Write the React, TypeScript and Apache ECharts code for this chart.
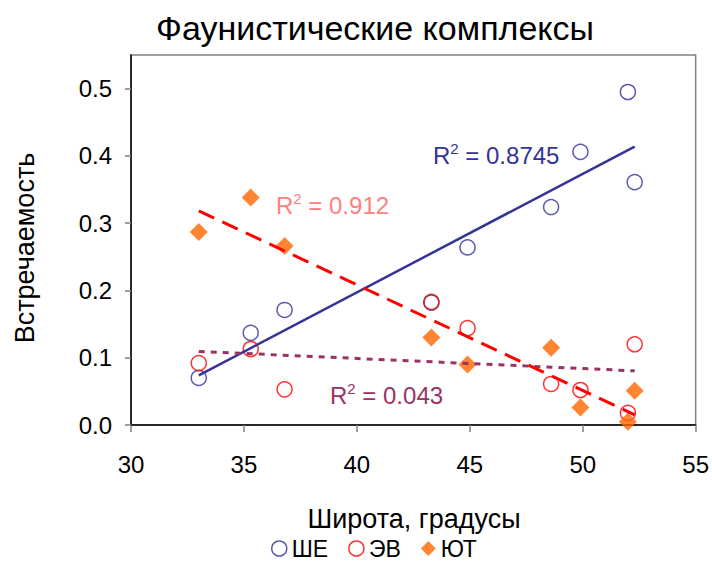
import React, { useEffect, useRef } from 'react';
import * as echarts from 'echarts';

const latitude = [33.0, 35.3, 36.8, 43.3, 44.9, 48.6, 49.9, 52.0, 52.3];
const sheValues = [0.070, 0.137, 0.171, 0.182, 0.264, 0.324, 0.406, 0.495, 0.361];
const evValues = [0.092, 0.113, 0.053, 0.183, 0.144, 0.061, 0.052, 0.018, 0.120];
const utValues = [0.287, 0.338, 0.266, 0.130, 0.090, 0.115, 0.026, 0.005, 0.051];
const seriesNames = ['ШЕ', 'ЭВ', 'ЮТ'];
const r2She = '0.8745';
const r2Ev = '0.043';
const r2Ut = '0.912';
const yTickValues = [0, 0.1, 0.2, 0.3, 0.4, 0.5];

const FONT = 'Liberation Sans, Arial, sans-serif';
const BLUE = '#333399';
const RED = '#FF0000';
const ORANGE = '#FF6600';
const PURPLE = '#993366';
const PINK = '#FF8080';

function pairs(xs: number[], ys: number[]) {
  return xs.map((x, i) => [x, ys[i]]);
}

function trend(xs: number[], ys: number[]) {
  const n = xs.length;
  const mx = xs.reduce((a, b) => a + b, 0) / n;
  const my = ys.reduce((a, b) => a + b, 0) / n;
  let sxy = 0;
  let sxx = 0;
  for (let i = 0; i < n; i++) {
    sxy += (xs[i] - mx) * (ys[i] - my);
    sxx += (xs[i] - mx) * (xs[i] - mx);
  }
  const b = sxy / sxx;
  const a = my - b * mx;
  const x0 = Math.min(...xs);
  const x1 = Math.max(...xs);
  return [[x0, a + b * x0], [x1, a + b * x1]];
}

function r2Text(value: string, color: string, x: number, y: number) {
  return {
    type: 'text',
    x,
    y,
    z: 100,
    style: {
      text: '{b|R}{s|2}{b| = ' + value + '}',
      fill: color,
      fontFamily: FONT,
      fontSize: 24,
      verticalAlign: 'middle',
      rich: {
        b: { fontSize: 24, fontFamily: FONT, fill: color, lineHeight: 28 },
        s: { fontSize: 15, fontFamily: FONT, fill: color, verticalAlign: 'top', lineHeight: 16 },
      },
    },
  };
}

export default function App() {
  const ref = useRef<HTMLDivElement>(null);
  useEffect(() => {
    if (!ref.current) return;
    const chart = echarts.init(ref.current, null, { renderer: 'svg' });
    const circleStyle = (c: string) => ({ color: 'rgba(255,255,255,0)', borderColor: c, borderWidth: 1.5 });
    chart.setOption({
      animation: false,
      backgroundColor: '#ffffff',
      textStyle: { fontFamily: FONT },
      grid: {
        left: 131,
        right: 15,
        top: 55,
        bottom: 137,
        show: true,
        borderColor: '#808080',
        borderWidth: 1.5,
        containLabel: false,
      },
      legend: {
        left: 266,
        top: 532,
        itemGap: 20,
        itemWidth: 15,
        itemHeight: 15,
        textStyle: { fontSize: 23, color: '#000', fontFamily: FONT, lineHeight: 23 },
        data: [
          { name: seriesNames[0], icon: 'circle', itemStyle: circleStyle(BLUE) },
          { name: seriesNames[1], icon: 'circle', itemStyle: circleStyle(RED) },
          { name: seriesNames[2], icon: 'diamond', itemStyle: { color: ORANGE } },
        ],
      },
      xAxis: {
        type: 'value',
        min: 30,
        max: 55,
        interval: 5,
        axisLine: { show: true, onZero: false, lineStyle: { color: '#000', width: 1.5 } },
        axisTick: { show: true, inside: false, length: 7, lineStyle: { color: '#808080', width: 1.5 } },
        axisLabel: { fontSize: 24, color: '#000', margin: 27, fontFamily: FONT },
        splitLine: { show: false },
      },
      yAxis: {
        type: 'value',
        min: 0,
        max: 0.55,
        interval: 0.1,
        axisLine: { show: true, onZero: false, lineStyle: { color: '#000', width: 1.5 } },
        axisTick: {
          show: true,
          inside: false,
          length: 6,
          customValues: yTickValues,
          lineStyle: { color: '#808080', width: 1.5 },
        },
        axisLabel: {
          fontSize: 24,
          color: '#000',
          margin: 19,
          fontFamily: FONT,
          customValues: yTickValues,
          formatter: (v: number) => v.toFixed(1),
        },
        splitLine: { show: false },
      },
      series: [
        {
          name: seriesNames[0],
          type: 'scatter',
          symbol: 'circle',
          symbolSize: 15,
          itemStyle: circleStyle(BLUE),
          data: pairs(latitude, sheValues),
          z: 2,
        },
        {
          name: seriesNames[1],
          type: 'scatter',
          symbol: 'circle',
          symbolSize: 15,
          itemStyle: circleStyle(RED),
          data: pairs(latitude, evValues),
          z: 2,
        },
        {
          name: seriesNames[2],
          type: 'scatter',
          symbol: 'diamond',
          symbolSize: 18,
          itemStyle: { color: ORANGE },
          data: pairs(latitude, utValues),
          z: 2,
        },
        {
          name: 'trend-she',
          type: 'line',
          symbol: 'none',
          data: trend(latitude, sheValues),
          lineStyle: { color: BLUE, width: 2.5, type: 'solid' },
          z: 3,
          silent: true,
        },
        {
          name: 'trend-ev',
          type: 'line',
          symbol: 'none',
          data: trend(latitude, evValues),
          lineStyle: { color: PURPLE, width: 3, type: [6, 6] },
          z: 3,
          silent: true,
        },
        {
          name: 'trend-ut',
          type: 'line',
          symbol: 'none',
          data: trend(latitude, utValues),
          lineStyle: { color: RED, width: 3, type: [17, 9] },
          z: 3,
          silent: true,
        },
      ],
      graphic: [
        {
          type: 'text',
          x: 375,
          y: 28,
          style: {
            text: 'Фаунистические комплексы',
            fontSize: 34,
            fontFamily: FONT,
            fill: '#000',
            align: 'center',
            verticalAlign: 'middle',
          },
        },
        {
          type: 'text',
          x: 414,
          y: 519,
          style: {
            text: 'Широта, градусы',
            fontSize: 27,
            fontFamily: FONT,
            fill: '#000',
            align: 'center',
            verticalAlign: 'middle',
          },
        },
        {
          type: 'text',
          x: 25,
          y: 248,
          rotation: Math.PI / 2,
          style: {
            text: 'Встречаемость',
            fontSize: 27,
            fontFamily: FONT,
            fill: '#000',
            align: 'center',
            verticalAlign: 'middle',
          },
        },
        r2Text(r2She, BLUE, 433, 155),
        r2Text(r2Ut, PINK, 276, 205),
        r2Text(r2Ev, PURPLE, 330, 395),
      ],
    });
    return () => chart.dispose();
  }, []);
  return <div ref={ref} style={{ position: 'fixed', left: 0, top: 0, width: 712, height: 562 }} />;
}
